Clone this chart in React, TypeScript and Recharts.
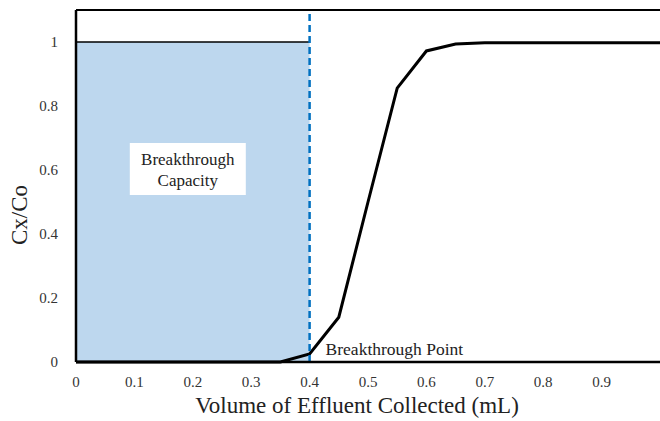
import {
  ComposedChart,
  Line,
  XAxis,
  YAxis,
  ReferenceArea,
  ReferenceLine,
  Label,
} from 'recharts'

const volume = [0, 0.05, 0.1, 0.15, 0.2, 0.25, 0.3, 0.35, 0.4, 0.45, 0.5, 0.55, 0.6, 0.65, 0.7, 0.75, 0.8, 0.85, 0.9, 0.95, 1.0]
const ratio = [0, 0, 0, 0, 0, 0, 0, 0, 0.025, 0.14, 0.5, 0.856, 0.972, 0.994, 0.998, 0.998, 0.998, 0.998, 0.998, 0.998, 0.998]
const xTicks = [0, 0.1, 0.2, 0.3, 0.4, 0.5, 0.6, 0.7, 0.8, 0.9]
const yTicks = [0, 0.2, 0.4, 0.6, 0.8, 1]
const breakthroughVolume = 0.4

const data = volume.map((v, i) => ({ v, c: ratio[i] }))

const serif = 'Liberation Serif'

export default function App() {
  return (
    <div style={{ position: 'absolute', left: 0, top: 0, background: '#fff', fontFamily: serif }}>
      <ComposedChart width={660} height={421} data={data} margin={{ top: 10, right: 0, left: 0, bottom: 0 }}>
        <XAxis
          dataKey="v"
          type="number"
          domain={[0, 1]}
          ticks={xTicks}
          tickFormatter={(t: number) => String(t)}
          tickLine={false}
          tickMargin={8}
          axisLine={{ stroke: '#000', strokeWidth: 2.5 }}
          tick={{ fill: '#333', fontSize: 15, fontFamily: serif }}
          height={59}
        >
          <Label
            content={(props: any) => {
              const vb = props.viewBox
              return (
                <text x={vb.x + vb.width / 2 - 11} y={413} textAnchor="middle" fontFamily={serif} fontSize={23} fill="#222">
                  Volume of Effluent Collected (mL)
                </text>
              )
            }}
          />
        </XAxis>
        <YAxis
          type="number"
          domain={[0, 1.1]}
          ticks={yTicks}
          tickLine={false}
          tickMargin={12}
          width={76}
          axisLine={{ stroke: '#000', strokeWidth: 2.5 }}
          tick={{ fill: '#333', fontSize: 15, fontFamily: serif }}
        >
          <Label
            content={() => (
              <text x={27} y={215} transform="rotate(-90, 27, 215)" textAnchor="middle" fontFamily={serif} fontSize={23} fill="#222">
                Cx/Co
              </text>
            )}
          />
        </YAxis>
        <ReferenceLine y={1.1} stroke="#000" strokeWidth={2} ifOverflow="visible" />
        <ReferenceArea
          x1={0}
          x2={breakthroughVolume}
          y1={0}
          y2={1}
          fill="#bdd7ee"
          fillOpacity={1}
          stroke="none"
          label={(props: any) => {
            const vb = props.viewBox
            const cx = vb.x + vb.width / 2 - 5
            const cy = vb.y + vb.height / 2 - 33
            return (
              <g>
                <rect x={cx - 58} y={cy - 26} width={116} height={52} fill="#fff" />
                <text x={cx} y={cy - 4} textAnchor="middle" fontFamily={serif} fontSize={17} fill="#222">
                  Breakthrough
                </text>
                <text x={cx} y={cy + 17} textAnchor="middle" fontFamily={serif} fontSize={17} fill="#222">
                  Capacity
                </text>
              </g>
            )
          }}
        />
        <ReferenceLine
          segment={[
            { x: 0, y: 1 },
            { x: breakthroughVolume, y: 1 },
          ]}
          stroke="#000"
          strokeWidth={1.5}
        />
        <Line
          dataKey="c"
          type="linear"
          stroke="#000"
          strokeWidth={3}
          dot={false}
          isAnimationActive={false}
        />
        <ReferenceLine
          x={breakthroughVolume}
          stroke="#0070c0"
          strokeWidth={2.5}
          strokeDasharray="7 4"
          label={(props: any) => {
            const vb = props.viewBox
            return (
              <text x={vb.x + 16} y={vb.y + vb.height - 7} fontFamily={serif} fontSize={17.5} fill="#222">
                Breakthrough Point
              </text>
            )
          }}
        />
      </ComposedChart>
    </div>
  )
}
